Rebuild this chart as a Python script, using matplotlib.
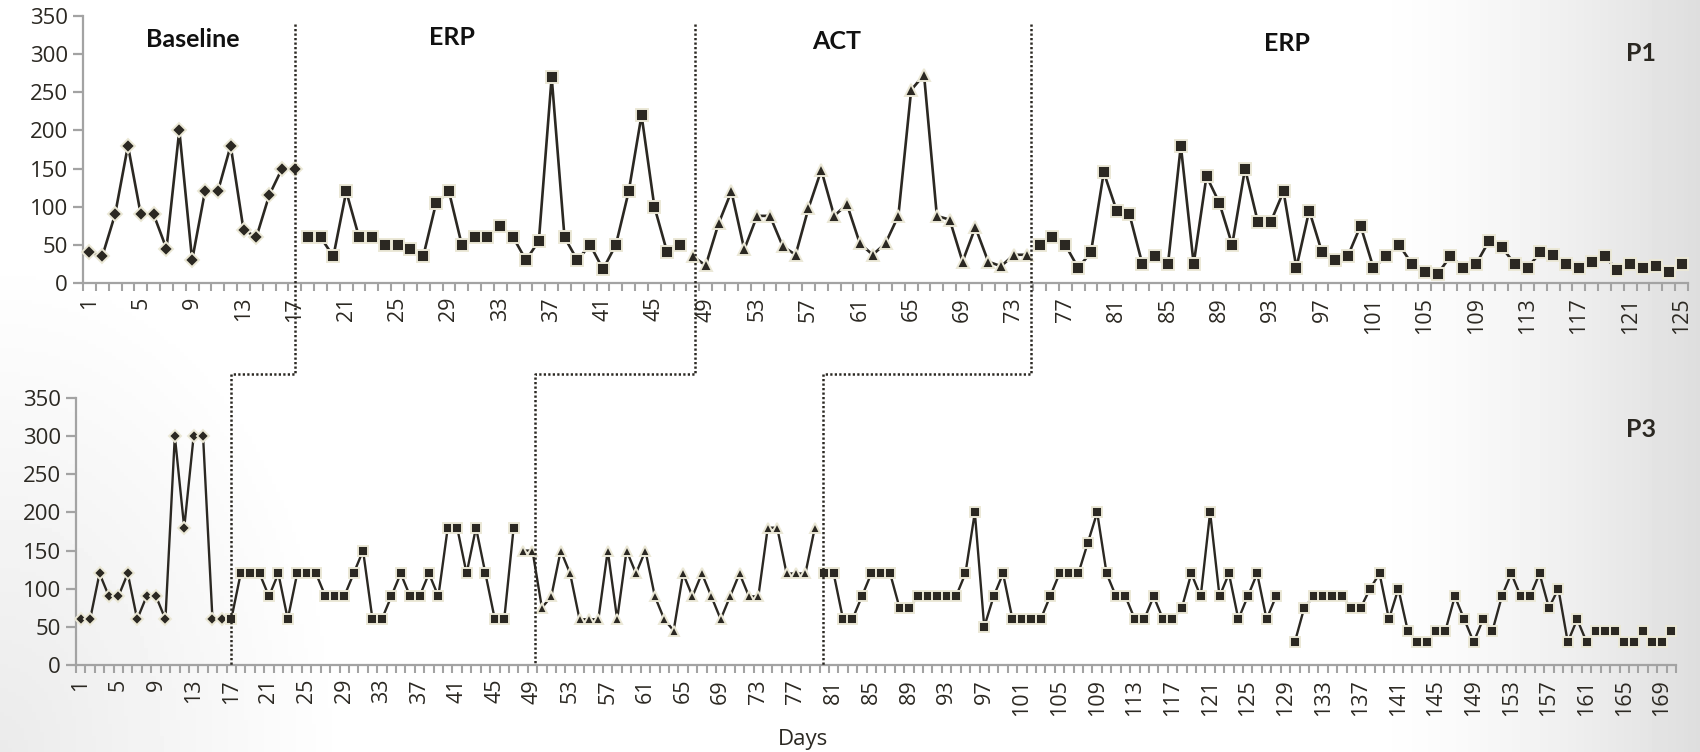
import numpy as np
import matplotlib.pyplot as plt
from matplotlib.lines import Line2D

plt.rcParams['font.family'] = ['Open Sans', 'DejaVu Sans']

# P1 (days 1-125)
p1_baseline = [40, 35, 90, 180, 90, 90, 45, 200, 30, 120, 120, 180, 70, 60, 115, 150, 150]
p1_erp1 = [60, 60, 35, 120, 60, 60, 50, 50, 45, 35, 105, 120, 50, 60, 60, 75, 60, 30, 55, 270,
           60, 30, 50, 18, 50, 120, 220, 100, 40, 50]
p1_act = [35, 23, 78, 120, 44, 88, 88, 48, 37, 98, 148, 88, 103, 52, 37, 52, 88, 253, 273, 88,
          83, 28, 73, 28, 22, 37, 37]
p1_erp2 = [50, 60, 50, 20, 40, 145, 95, 90, 25, 35, 25, 180, 25, 140, 105, 50, 150, 80, 80, 120,
           20, 95, 40, 30, 35, 75, 20, 35, 50, 25, 15, 12, 35, 20, 25, 55, 47, 25, 20, 40,
           37, 25, 20, 27, 35, 17, 25, 20, 22, 15, 25]
p1_starts = [1, 18, 48, 75]

# P3 (days 1-170), day 129 missing
p3_baseline = [60, 60, 120, 90, 90, 120, 60, 90, 90, 60, 300, 180, 300, 300, 60, 60]
p3_erp1 = [60, 120, 120, 120, 90, 120, 60, 120, 120, 120, 90, 90, 90, 120, 150, 60, 60, 90, 120, 90,
           90, 120, 90, 180, 180, 120, 180, 120, 60, 60, 180]
p3_act = [150, 150, 75, 90, 150, 120, 60, 60, 60, 150, 60, 150, 120, 150, 90, 60, 45, 120, 90, 120,
          90, 60, 90, 120, 90, 90, 180, 180, 120, 120, 120, 180]
p3_erp2 = [120, 120, 60, 60, 90, 120, 120, 120, 75, 75, 90, 90, 90, 90, 90, 120, 200, 50, 90, 120,
           60, 60, 60, 60, 90, 120, 120, 120, 160, 200, 120, 90, 90, 60, 60, 90, 60, 60, 75, 120,
           90, 200, 90, 120, 60, 90, 120, 60, 90, np.nan, 30, 75, 90, 90, 90, 90, 75, 75, 100, 120,
           60, 100, 45, 30, 30, 45, 45, 90, 60, 30, 60, 45, 90, 120, 90, 90, 120, 75, 100, 30,
           60, 30, 45, 45, 45, 30, 30, 45, 30, 30, 45]
p3_starts = [1, 17, 48, 80]

phase_markers = ['D', 's', '^', 's']
yticks = [0, 50, 100, 150, 200, 250, 300, 350]

# phase change lines (day positions) in each panel
p1_lines = [17, 48.2, 74.35]
p3_lines = [17, 49.3, 79.85]

dark = '#2b2822'
cream = '#ebe8d6'
grey = '#a3a3a3'

W, H = 1700, 752
fig = plt.figure(figsize=(W / 100, H / 100), dpi=100)

# slide background: light grey towards right edge and lower-left corner
bg = fig.add_axes([0, 0, 1, 1], zorder=-10)
xx, yy = np.meshgrid(np.linspace(0, 1, 425), np.linspace(1, 0, 188))
shade = 0.13 * np.clip((xx - 0.80) / 0.20, 0, 1) ** 1.5
d = np.hypot(xx * W / H * 1.3, yy * 0.9)
shade += 0.08 * np.clip(1 - d / 0.6, 0, 1)
bg.imshow(1 - shade, cmap='gray', vmin=0, vmax=1, extent=[0, 1, 0, 1], aspect='auto')
bg.axis('off')


def panel(rect, ndays, series, starts, ms_scale, lw):
    ax = fig.add_axes(rect)
    ax.set_facecolor('none')
    for vals, start, m in zip(series, starts, phase_markers):
        days = np.arange(start, start + len(vals))
        ms = {'D': 7.0, 's': 8.3, '^': 8.5}[m] * ms_scale
        ax.plot(days, vals, color=dark, lw=lw, marker=m, ms=ms, mfc=dark,
                mec=cream, mew=1.4, clip_on=False, zorder=3)
    ax.set_xlim(0.5, ndays + 0.5)
    ax.set_ylim(0, 350)
    for s in ['top', 'right']:
        ax.spines[s].set_visible(False)
    for s in ['left', 'bottom']:
        ax.spines[s].set_color(grey)
        ax.spines[s].set_linewidth(1.6)
    ax.set_yticks(yticks)
    ax.tick_params(axis='y', direction='out', length=7, width=1.6, color=grey,
                   labelsize=16, labelcolor=dark, pad=4)
    ax.set_xticks(np.arange(1, ndays + 1, 4))
    ax.set_xticklabels([str(v) for v in range(1, ndays + 1, 4)], rotation=90)
    ax.set_xticks(np.arange(0.5, ndays + 1, 1), minor=True)
    ax.tick_params(axis='x', which='major', length=0, labelsize=15.5, labelcolor=dark, pad=10)
    ax.tick_params(axis='x', which='minor', direction='out', length=6, width=1.5, color=grey)
    return ax


ax1 = panel([83 / W, 1 - 283 / H, 1605 / W, 267 / H], 125,
            [p1_baseline, p1_erp1, p1_act, p1_erp2], p1_starts, 1.0, 1.9)
ax2 = panel([76 / W, 1 - 665 / H, 1600 / W, 267 / H], 170,
            [p3_baseline, p3_erp1, p3_act, p3_erp2], p3_starts, 0.88, 1.7)

# dotted phase lines, joined between panels
to_fig = fig.transFigure.inverted()
y_join = 1 - 374 / H
for xt, xb in zip(p1_lines, p3_lines):
    x0, y0 = to_fig.transform(ax1.transData.transform((xt, 340)))
    x1, y1 = to_fig.transform(ax2.transData.transform((xb, 0)))
    fig.add_artist(Line2D([x0, x0, x1, x1], [y0, y_join, y_join, y1], transform=fig.transFigure,
                          color=dark, lw=1.8, ls=(0, (0.9, 0.9)), zorder=5))

head = dict(ha='center', va='baseline', fontsize=18, fontweight='bold', color='#111111',
            family=['Lato', 'DejaVu Sans'])
fig.text(193 / W, 1 - 47 / H, 'Baseline', **head)
fig.text(452 / W, 1 - 45 / H, 'ERP', **head)
fig.text(837 / W, 1 - 49 / H, 'ACT', **head)
fig.text(1287 / W, 1 - 51 / H, 'ERP', **head)
fig.text(1641 / W, 1 - 61 / H, 'P1', **dict(head, color=dark))
fig.text(1641 / W, 1 - 437 / H, 'P3', **dict(head, color=dark))
fig.text(803 / W, 1 - 745 / H, 'Days', ha='center', va='baseline', fontsize=16, color=dark)

fig.savefig('out.png', dpi=100)
